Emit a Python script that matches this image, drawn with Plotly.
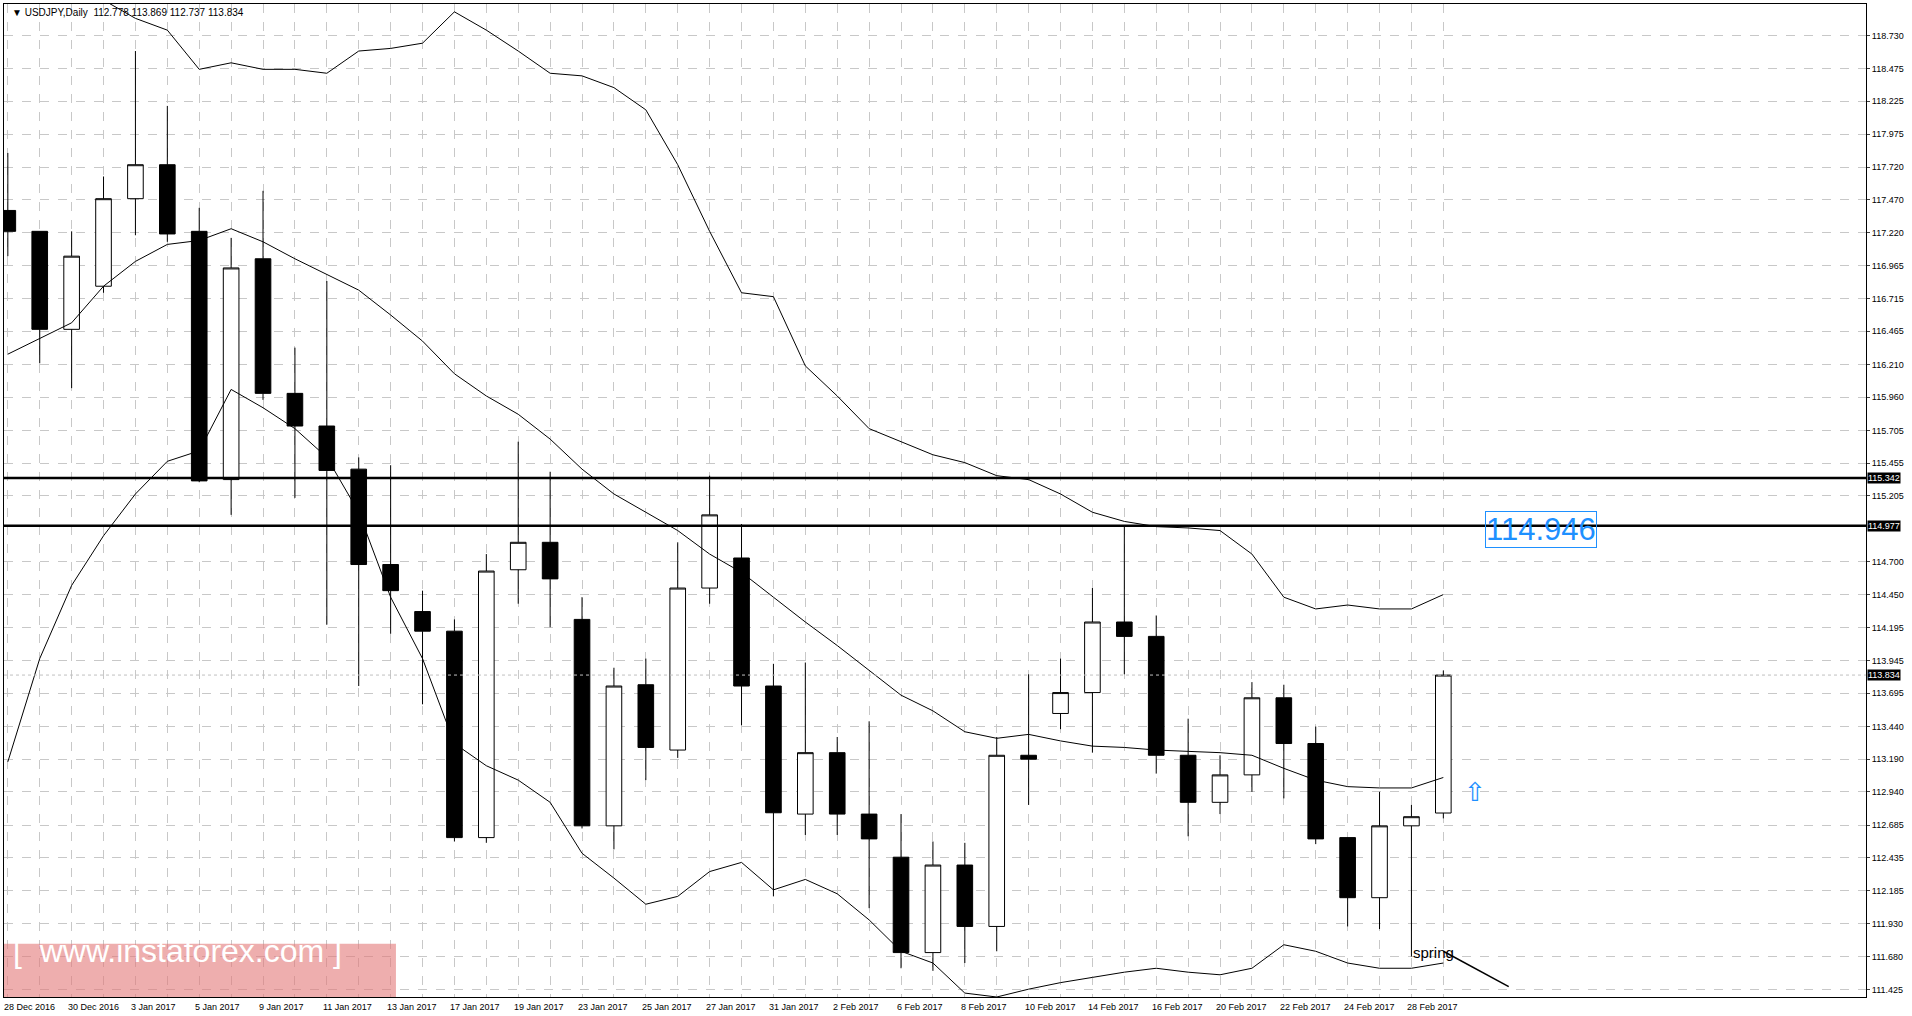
import plotly.graph_objects as go

opens  = [117.39,117.23,116.48,116.81,117.48,117.74,117.23,115.33,117.02,115.99,115.74,115.41,114.68,114.32,114.17,112.59,114.64,114.85,114.26,112.68,113.76,113.26,114.50,114.73,113.75,112.77,113.24,112.77,112.44,111.71,112.38,111.91,113.22,113.54,113.70,114.24,114.13,113.22,112.86,113.07,113.66,113.31,112.59,112.13,112.68,112.778]
highs  = [117.83,117.23,117.23,117.65,118.61,118.19,117.41,117.18,117.54,116.34,116.85,115.50,115.44,114.48,114.26,114.76,115.62,115.39,114.43,113.89,113.96,114.85,115.36,114.99,113.92,113.93,113.36,113.48,112.77,112.56,112.55,113.36,113.84,113.96,114.50,114.97,114.29,113.50,113.22,113.78,113.76,113.44,112.59,112.94,112.84,113.869]
lows   = [117.04,116.22,116.03,116.76,117.20,117.15,115.31,115.06,115.94,115.19,114.22,113.75,114.15,113.61,112.56,112.55,114.38,114.20,112.66,112.50,113.03,113.20,114.38,113.45,112.14,112.61,112.61,112.05,111.59,111.57,111.63,111.72,112.84,113.42,113.24,113.84,113.08,112.60,112.77,112.94,112.89,112.54,111.91,111.89,111.68,112.737]
closes = [117.23,116.48,117.04,117.48,117.74,117.21,115.32,116.95,115.99,115.74,115.40,114.68,114.48,114.17,112.59,114.63,114.85,114.57,112.68,113.75,113.28,114.50,115.06,113.75,112.78,113.24,112.77,112.58,111.71,112.38,111.91,113.22,113.19,113.70,114.24,114.13,113.22,112.86,113.07,113.66,113.31,112.58,112.13,112.68,112.75,113.834]

bb_upper = [119.4,119.25,119.12,119.0,118.86,118.77,118.47,118.52,118.47,118.47,118.44,118.61,118.63,118.67,118.91,118.77,118.61,118.44,118.42,118.33,118.16,117.74,117.23,116.76,116.73,116.20,115.97,115.72,115.62,115.52,115.46,115.36,115.33,115.22,115.08,115.01,114.97,114.96,114.94,114.76,114.43,114.34,114.37,114.34,114.34,114.45]
bb_mid = [116.29,116.41,116.53,116.81,117.00,117.13,117.16,117.25,117.15,117.02,116.90,116.78,116.59,116.39,116.14,115.97,115.83,115.64,115.41,115.22,115.08,114.94,114.76,114.62,114.43,114.24,114.06,113.87,113.68,113.56,113.40,113.35,113.38,113.33,113.29,113.28,113.26,113.25,113.24,113.22,113.12,113.03,112.98,112.97,112.97,113.05]
bb_lower = [113.17,113.96,114.52,114.90,115.22,115.47,115.55,116.02,115.88,115.72,115.50,115.08,114.43,113.96,113.31,113.14,113.03,112.86,112.47,112.28,112.08,112.14,112.33,112.40,112.19,112.27,112.16,111.96,111.72,111.63,111.40,111.37,111.43,111.48,111.52,111.56,111.59,111.56,111.54,111.59,111.77,111.72,111.63,111.59,111.59,111.63]

date_labels = ["28 Dec 2016","30 Dec 2016","3 Jan 2017","5 Jan 2017","9 Jan 2017","11 Jan 2017","13 Jan 2017","17 Jan 2017","19 Jan 2017","23 Jan 2017","25 Jan 2017","27 Jan 2017","31 Jan 2017","2 Feb 2017","6 Feb 2017","8 Feb 2017","10 Feb 2017","14 Feb 2017","16 Feb 2017","20 Feb 2017","22 Feb 2017","24 Feb 2017","28 Feb 2017"]
price_ticks = [118.730,118.475,118.225,117.975,117.720,117.470,117.220,116.965,116.715,116.465,116.210,115.960,115.705,115.455,115.205,114.700,114.450,114.195,113.945,113.695,113.440,113.190,112.940,112.685,112.435,112.185,111.930,111.680,111.425]
levels = [115.342, 114.977]
last_price = 113.834
label_level = 114.946

idx = list(range(len(opens)))
FONT = "Liberation Sans"

fig = go.Figure()
for s in (bb_upper, bb_mid, bb_lower):
    fig.add_trace(go.Scatter(x=idx, y=s, mode="lines", line=dict(color="black", width=1), hoverinfo="skip"))
fig.add_trace(go.Candlestick(x=idx, open=opens, high=highs, low=lows, close=closes,
    increasing=dict(fillcolor="white", line=dict(color="black", width=1)),
    decreasing=dict(fillcolor="black", line=dict(color="black", width=1)),
    whiskerwidth=0))

shapes = []
for lv in levels:
    shapes.append(dict(type="line", xref="paper", x0=0, x1=1, y0=lv, y1=lv, line=dict(color="black", width=2.5)))
shapes.append(dict(type="line", xref="paper", x0=0, x1=1, y0=last_price, y1=last_price, line=dict(color="#c0c0c0", width=1, dash="dot")))
shapes.append(dict(type="line", x0=45, x1=47.05, y0=111.72, y1=111.45, line=dict(color="black", width=1.5)))
shapes.append(dict(type="rect", xref="paper", yref="paper", x0=0, x1=0.2105, y0=0, y1=0.0535,
                   fillcolor="rgba(226,120,120,0.6)", line=dict(width=0), layer="above"))

ann = []
for i, t in enumerate(date_labels):
    ann.append(dict(x=2*i, y=0, yref="paper", yanchor="top", xanchor="left", text=t,
                    showarrow=False, font=dict(size=9, color="black", family=FONT), yshift=-3, xshift=-6))
for v in levels + [last_price]:
    ann.append(dict(x=1, xref="paper", y=v, xanchor="left", text=f"{v:.3f}", showarrow=False,
                    bgcolor="black", font=dict(size=9, color="white", family=FONT), borderpad=0, xshift=1))
ann.append(dict(x=46.3, y=label_level, xanchor="left", text=f"{label_level:.3f}", showarrow=False,
                font=dict(size=31, color="#1e90ff", family=FONT), bordercolor="#1e90ff", borderwidth=1, borderpad=0))
ann.append(dict(x=46.0, y=112.94, text="⇧", showarrow=False, font=dict(size=26, color="#1e90ff", family="DejaVu Sans")))
ann.append(dict(x=44.0, y=111.71, text="spring", xanchor="left", showarrow=False, font=dict(size=15, color="black", family=FONT)))
ann.append(dict(x=0.004, y=0.026, xref="paper", yref="paper", xanchor="left", text="[  www.instaforex.com ]",
                showarrow=False, font=dict(size=32, color="white", family=FONT)))
ann.append(dict(x=0.003, y=1, xref="paper", yref="paper", xanchor="left", yanchor="top",
                text="▼ USDJPY,Daily  112.778 113.869 112.737 113.834", showarrow=False,
                font=dict(size=10, color="black", family=FONT), yshift=-1))

fig.update_layout(
    width=1912, height=1016, margin=dict(l=4, r=46, t=4, b=19, autoexpand=False),
    paper_bgcolor="white", plot_bgcolor="white", showlegend=False,
    shapes=shapes, annotations=ann,
    xaxis=dict(range=[-0.12, 58.25], rangeslider=dict(visible=False), showticklabels=False,
               tickvals=idx, showgrid=True, gridcolor="#c8c8c8", griddash="dash", gridwidth=1,
               zeroline=False, showline=True, linecolor="black", mirror=True, automargin=False),
    yaxis=dict(range=[111.37, 118.97], side="right", tickvals=price_ticks, automargin=False,
               ticktext=[f"{v:.3f}" for v in price_ticks], tickfont=dict(size=9, family=FONT, color="black"),
               ticks="outside", ticklen=3, showgrid=True, gridcolor="#c8c8c8", griddash="dash",
               zeroline=False, showline=True, linecolor="black", mirror=True),
)
fig.write_html("out.html", config={"displayModeBar": False},
               post_script="document.body.style.margin='0';document.body.style.overflow='hidden';")
